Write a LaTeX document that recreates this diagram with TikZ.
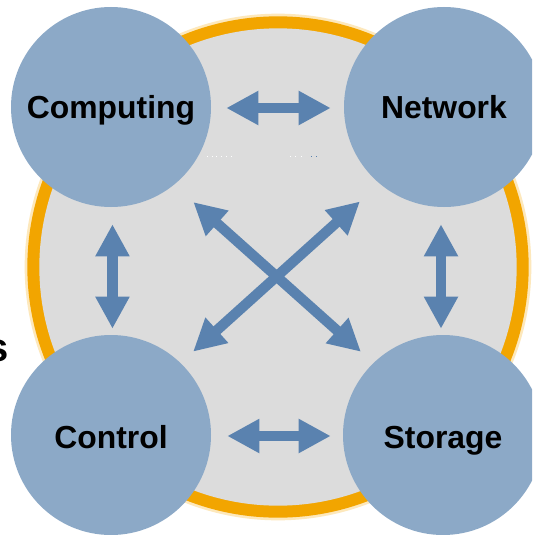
\documentclass[tikz,border=0pt]{standalone}
\usepackage{fontspec}
\setmainfont{Liberation Sans}
\usetikzlibrary{arrows.meta}
\definecolor{ringorange}{HTML}{F2A500}
\definecolor{ringhalo}{HTML}{FDE8BC}
\definecolor{discgray}{HTML}{DCDCDC}
\definecolor{circleblue}{HTML}{8CA9C7}
\definecolor{arrowblue}{HTML}{5A82AF}
\tikzset{
  px/.style={x=0.75pt,y=-0.75pt},
  hub/.style={circle,minimum size=150pt,inner sep=0pt,fill=circleblue,draw=none,font=\fontsize{23.9pt}{28pt}\selectfont\bfseries,text=black,text depth=0pt},
  tophub/.style={hub,text height=17.2pt},
  lowhub/.style={hub,text height=19.5pt},
  blockarrow/.style={draw=arrowblue,line width=7.7pt,{Triangle[width=24pt,length=24pt]}-{Triangle[width=24pt,length=24pt]}},
  speck/.style={fill=#1,draw=none,minimum size=0.75pt,inner sep=0pt,rectangle}
}
\begin{document}
\begin{tikzpicture}[px]
\useasboundingbox (0,0) rectangle (532,535);
\clip (0,0) rectangle (532,535);
\fill[white] (0,0) rectangle (532,535);
\node[anchor=base east,inner sep=0pt,font=\fontsize{30pt}{36pt}\selectfont\bfseries] (cutoff) at (9.5,361.5) {s};
\coordinate (ringcenter) at (278,267);
\fill[ringhalo] (ringcenter) circle (190pt);
\fill[ringorange] (ringcenter) circle (188pt);
\fill[discgray] (ringcenter) circle (179pt);
\foreach \i/\x/\c in {1/207/white,2/212/white,3/216/white,4/221/white,5/226/white,6/231/white,7/290/white,8/295/white,9/301/white,10/311/arrowblue,11/316/arrowblue}
  \node[speck=\c] (dot\i) at (\x,156) {};
\node[tophub] (computing) at (111,107) {Computing};
\node[tophub] (network) at (444,107) {Network};
\node[lowhub] (control) at (111,435) {Control};
\node[lowhub] (storage) at (443,435) {Storage};
\draw[blockarrow,shorten <=11.25pt,shorten >=9.75pt] ([yshift=-0.75pt]computing.0) -- ([yshift=-0.75pt]network.180);
\draw[blockarrow,shorten <=12pt,shorten >=9pt] ([yshift=-0.75pt]control.0) -- ([yshift=-0.75pt]storage.180);
\draw[blockarrow,shorten <=12.75pt,shorten >=4.5pt] ([xshift=1.1pt]computing.-90) -- ([xshift=1.1pt]control.90);
\draw[blockarrow,shorten <=12.75pt,shorten >=4.5pt] ([xshift=-2.25pt]network.-90) -- ([xshift=-1.5pt]storage.90);
\draw[blockarrow,shorten <=19.35pt,shorten >=12.5pt] (computing.-51.1) -- (storage.134);
\draw[blockarrow,shorten <=19.8pt,shorten >=12.6pt] (network.230.7) -- (control.46);
\end{tikzpicture}
\end{document}
